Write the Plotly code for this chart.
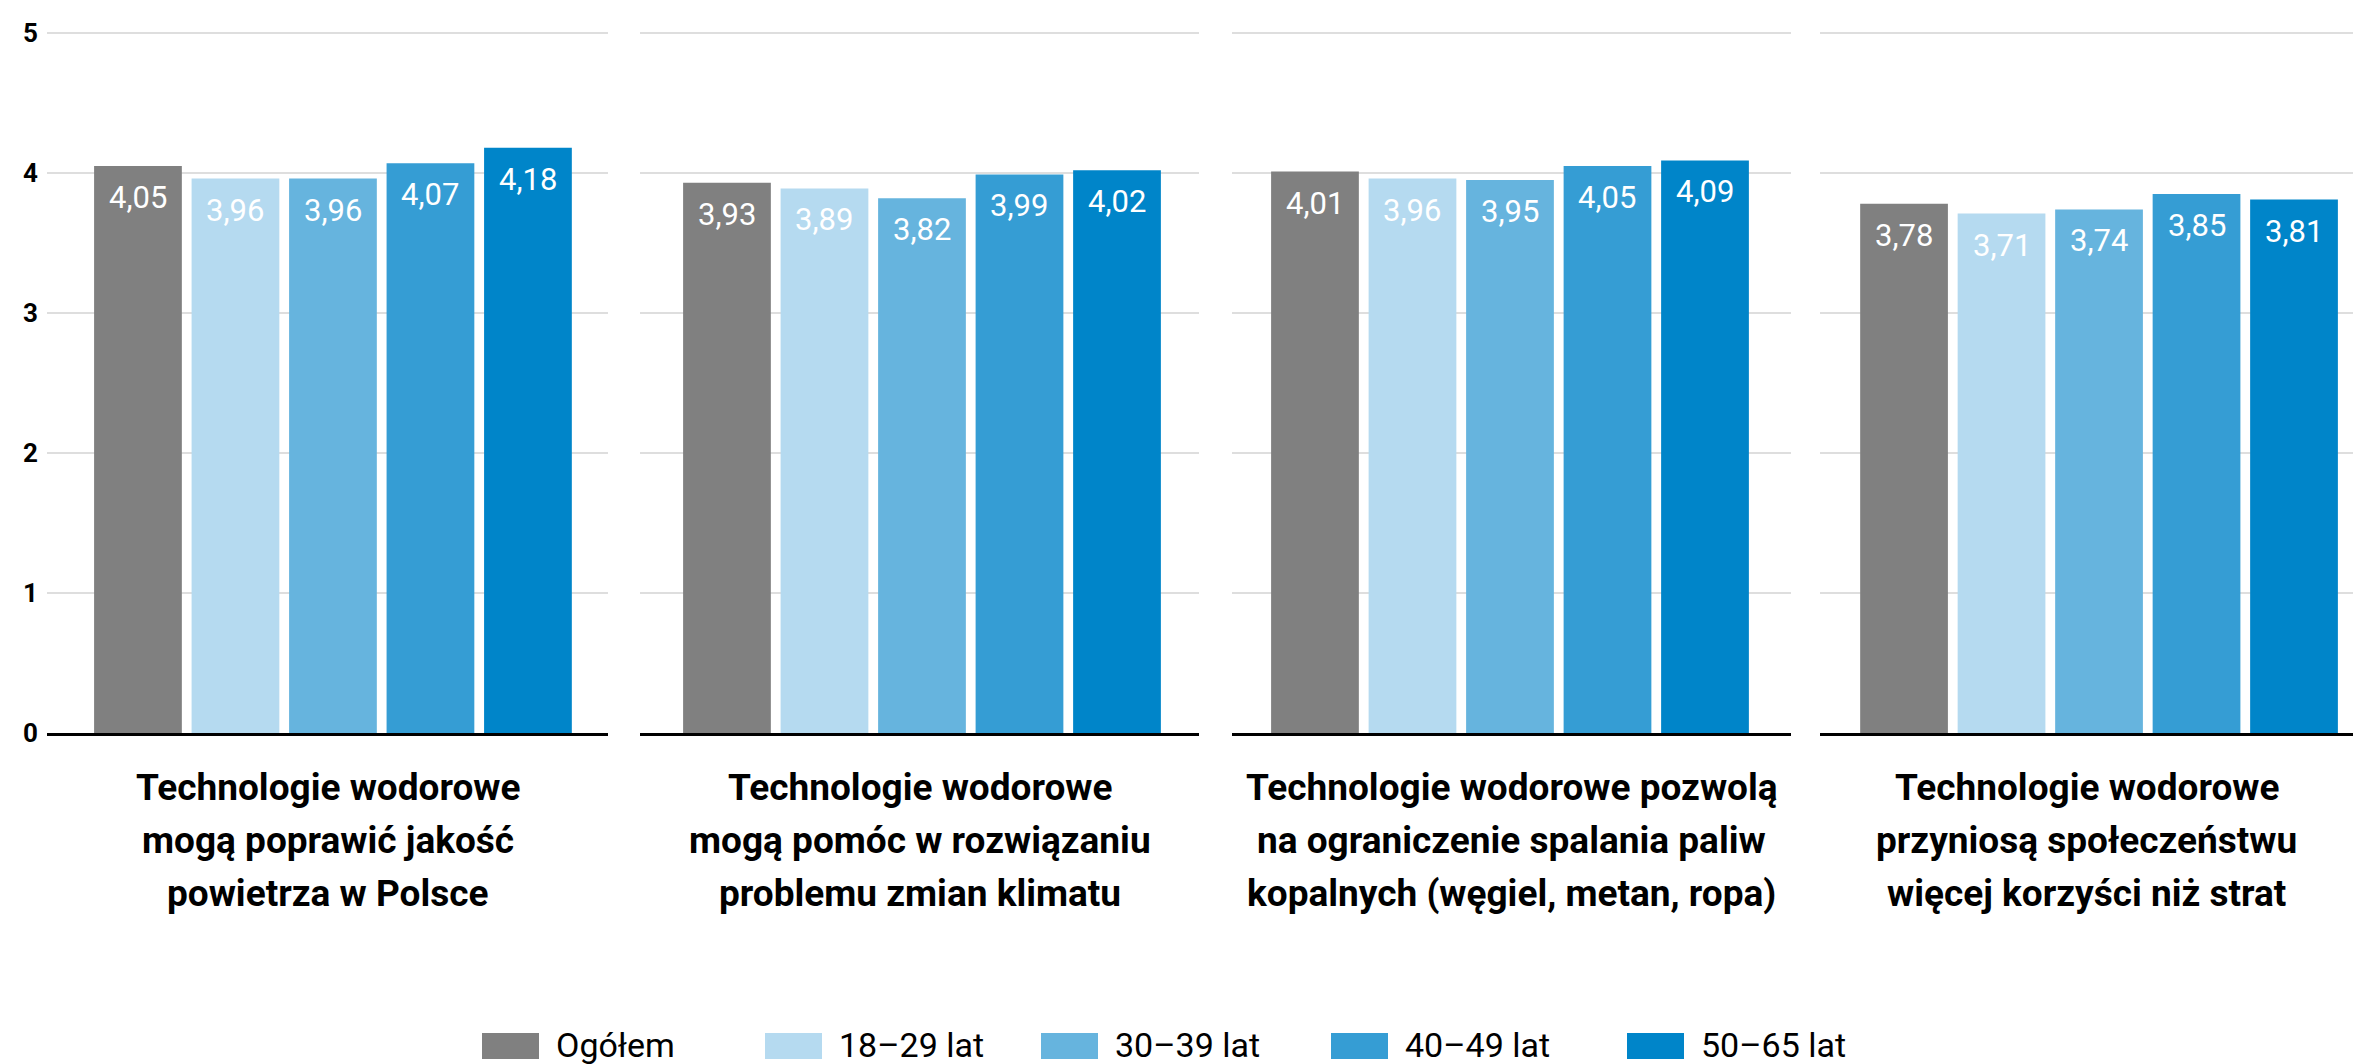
import plotly.graph_objects as go

# Survey results: mean agreement (1-5 scale) per statement and age group
groups = ["Ogółem", "18–29 lat", "30–39 lat", "40–49 lat", "50–65 lat"]
colors = ["#808080", "#b5daf0", "#66b4de", "#359dd4", "#0085c9"]

statements = [
    ["Technologie wodorowe", "mogą poprawić jakość", "powietrza w Polsce"],
    ["Technologie wodorowe", "mogą pomóc w rozwiązaniu", "problemu zmian klimatu"],
    ["Technologie wodorowe pozwolą", "na ograniczenie spalania paliw", "kopalnych (węgiel, metan, ropa)"],
    ["Technologie wodorowe", "przyniosą społeczeństwu", "więcej korzyści niż strat"],
]

air_quality = [4.05, 3.96, 3.96, 4.07, 4.18]
climate = [3.93, 3.89, 3.82, 3.99, 4.02]
fossil_fuels = [4.01, 3.96, 3.95, 4.05, 4.09]
benefits = [3.78, 3.71, 3.74, 3.85, 3.81]
panels = [air_quality, climate, fossil_fuels, benefits]

y_ticks = [0, 1, 2, 3, 4, 5]

# page geometry (px)
W, H = 2353, 1064
ML, MT, MB = 47, 26, 331
PW = W - ML
PH = H - MT - MB
Y0 = H - MB  # pixel row of the zero line

panel_px = [(47, 608), (640, 1199), (1232, 1791), (1820, 2353)]
x_ranges = [(-0.933, 4.821), (-0.892, 4.841), (-0.851, 4.882), (-0.862, 4.605)]

FONT = "Roboto"

fig = go.Figure()
annotations = []
shapes = []

for i, vals in enumerate(panels):
    n = "" if i == 0 else str(i + 1)
    fig.add_trace(go.Bar(
        x=groups, y=vals, width=0.9,
        marker=dict(color=colors, line=dict(width=0)),
        xaxis="x" + n, yaxis="y" + n,
        showlegend=False, hoverinfo="skip",
    ))
    a, b = panel_px[i]
    fig.layout["xaxis" + n] = dict(
        domain=[(a - ML) / PW, (b - ML) / PW],
        type="category", range=list(x_ranges[i]),
        showticklabels=False, showgrid=False, zeroline=False,
        showline=True, linecolor="#000000", linewidth=2.5,
        fixedrange=True, anchor="y" + n,
    )
    fig.layout["yaxis" + n] = dict(
        range=[0, 5.05], tickvals=y_ticks,
        showgrid=True, gridcolor="#dedede", gridwidth=2,
        zeroline=False, showline=False,
        showticklabels=(i == 0),
        tickfont=dict(family=FONT, size=26, color="#000000", weight="bold"),
        ticklabelstandoff=8,
        fixedrange=True, anchor="x" + n,
    )
    # value labels inside the top of each bar
    for g, v in zip(groups, vals):
        annotations.append(dict(
            x=g, y=v, xref="x" + n, yref="y" + n,
            text=f"{v:.2f}".replace(".", ","),
            showarrow=False, yanchor="top", yshift=-11,
            font=dict(family=FONT, size=31, color="#ffffff"),
        ))
    # statement text under each panel
    for k, line in enumerate(statements[i]):
        center = 787 + 53 * k
        annotations.append(dict(
            x=0.5, xref="x" + n + " domain",
            y=(Y0 - center) / PH, yref="paper",
            text=line, showarrow=False, xanchor="center", yanchor="middle",
            font=dict(family=FONT, size=37, color="#000000", weight="bold"),
        ))

# legend row
legend_x = [482, 765, 1041, 1331, 1627]
for gx, name, col in zip(legend_x, groups, colors):
    shapes.append(dict(
        type="rect", xref="paper", yref="paper",
        x0=(gx - ML) / PW, x1=(gx + 57 - ML) / PW,
        y0=(Y0 - 1059) / PH, y1=(Y0 - 1033) / PH,
        fillcolor=col, line=dict(width=0), layer="above",
    ))
    annotations.append(dict(
        x=(gx + 72 - ML) / PW, xref="paper",
        y=(Y0 - 1045) / PH, yref="paper",
        text=name, showarrow=False, xanchor="left", yanchor="middle",
        font=dict(family=FONT, size=34, color="#000000"),
    ))

fig.update_layout(
    width=W, height=H,
    margin=dict(l=ML, r=0, t=MT, b=MB, pad=0),
    paper_bgcolor="#ffffff", plot_bgcolor="#ffffff",
    annotations=annotations, shapes=shapes,
    font=dict(family=FONT),
)

fig.write_html("out.html", config={"displayModeBar": False})
